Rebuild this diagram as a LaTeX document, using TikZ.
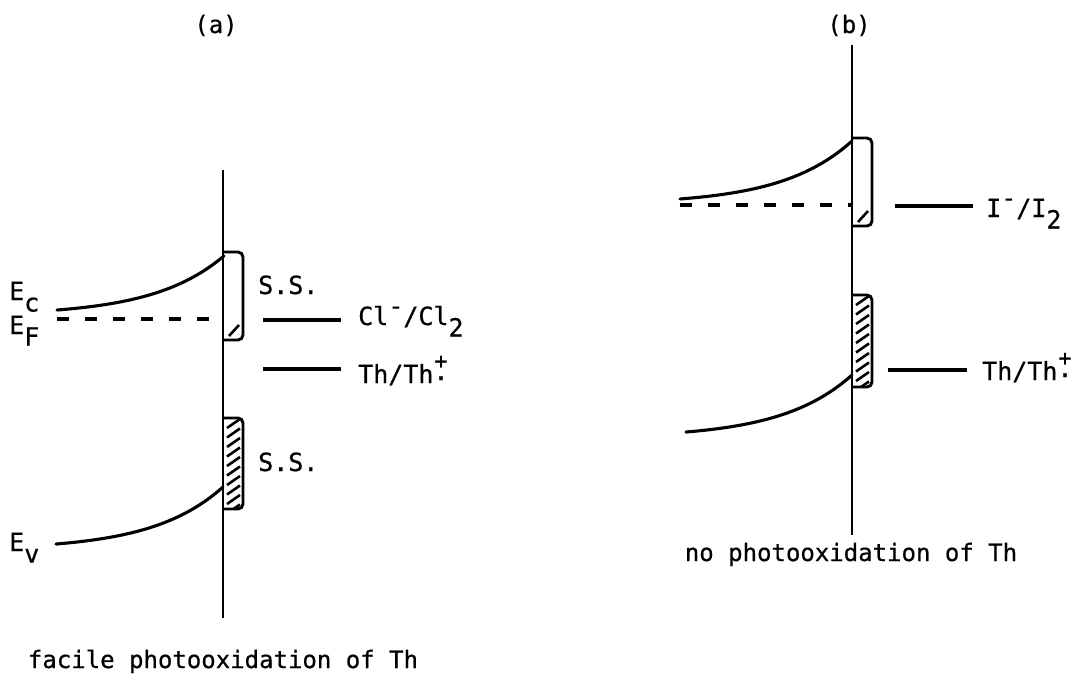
\documentclass[tikz,border=0pt]{standalone}
\usepackage{fontspec}
\newfontfamily\tw[FakeBold=0.6]{DejaVu Sans Mono}
\newcommand\tsub[1]{\raisebox{-0.46em}{#1}}
\newcommand\tsupm{\raisebox{0.42em}{-}}
\newcommand\radc{\ooalign{\hfil\raisebox{0.12em}{.}\hfil\cr\hfil\raisebox{0.58em}{\fontsize{22}{22}\selectfont +}\hfil\cr}}
\begin{document}
\begin{tikzpicture}[x=1pt,y=-1pt,
  lbl/.style={font=\tw\fontsize{25}{30}\selectfont, inner sep=0pt, anchor=base west},
  capt/.style={font=\tw\fontsize{24}{28}\selectfont, inner sep=0pt, anchor=base},
  band/.style={line width=3.1pt, line cap=round},
  axisline/.style={line width=2.8pt},
  level/.style={line width=3.2pt},
  fermi/.style={line width=3.4pt, dash pattern=on 12pt off 16pt},
  ssout/.style={line width=2.9pt, rounded corners=5pt},
  hatchline/.style={line width=2.6pt}]
\useasboundingbox (0,0) rectangle (1077,686);

% ---------------- panel (a) ----------------
\node[capt] (ta) at (216,33) {(a)};
\coordinate (atop) at (223,170);
\coordinate (abot) at (223,618);
\draw[axisline] (atop) -- (abot);

% conduction band, Fermi level
\draw[band] plot[domain=57:224, samples=50, smooth] (\x, {315.5-60.5*exp((\x-225)/70)});
\coordinate (af1) at (57,319);
\coordinate (af2) at (223,319);
\draw[fermi] (af1) -- (af2);

% upper surface-state box
\begin{scope}
  \clip[rounded corners=5pt] (223,319) -- (243,319) -- (243,340) -- (223,340) -- cycle;
  \draw[hatchline] (229,336) -- (239,325);
\end{scope}
\draw[ssout] (223,252) -- (243,252) -- (243,340) -- (223,340);

% lower surface-state box (hatched)
\begin{scope}
  \clip[rounded corners=5pt] (223,418) -- (243,418) -- (243,509) -- (223,509) -- cycle;
  \foreach \k in {422,431.5,...,512} \draw[hatchline] (227,\k+6) -- (240,\k-3);
\end{scope}
\draw[ssout] (223,418) -- (243,418) -- (243,509) -- (223,509);

% valence band
\draw[band] plot[domain=56:223, samples=50, smooth] (\x, {549.8-62.8*exp((\x-223)/70)});

% labels
\node[lbl] (ec) at (9,300) {E\tsub{c}};
\node[lbl] (ef) at (9,334) {E\tsub{F}};
\node[lbl] (ev) at (9,551) {E\tsub{v}};
\node[lbl] (ss1) at (258,294) {S.S.};
\node[lbl] (ss2) at (258,471) {S.S.};

% redox levels
\coordinate (cl1) at (263,320);
\coordinate (cl2) at (341,320);
\draw[level] (cl1) -- (cl2);
\node[lbl] (cltext) at (358,325) {Cl\tsupm/Cl\tsub{2}};
\coordinate (th1) at (263,369);
\coordinate (th2) at (341,369);
\draw[level] (th1) -- (th2);
\node[lbl] (thtext) at (358,383) {Th/Th\radc};

\node[capt] (capa) at (223,668) {facile photooxidation of Th};

% ---------------- panel (b) ----------------
\node[capt] (tb) at (849,33) {(b)};
\coordinate (btop) at (852,45);
\coordinate (bbot) at (852,535);
\draw[axisline] (btop) -- (bbot);

\draw[band] plot[domain=680:852, samples=50, smooth] (\x, {204.4-63.4*exp((\x-852)/70)});
\coordinate (bf1) at (680,205);
\coordinate (bf2) at (852,205);
\draw[fermi] (bf1) -- (bf2);

\begin{scope}
  \clip[rounded corners=5pt] (852,205) -- (872,205) -- (872,226) -- (852,226) -- cycle;
  \draw[hatchline] (858,222) -- (868,211);
\end{scope}
\draw[ssout] (852,138) -- (872,138) -- (872,226) -- (852,226);

\begin{scope}
  \clip[rounded corners=5pt] (852,295) -- (872,295) -- (872,387) -- (852,387) -- cycle;
  \foreach \k in {299,308.5,...,390} \draw[hatchline] (856,\k+6) -- (869,\k-3);
\end{scope}
\draw[ssout] (852,295) -- (872,295) -- (872,387) -- (852,387);

\draw[band] plot[domain=686:852, samples=50, smooth] (\x, {437.9-62.9*exp((\x-852)/70)});

\coordinate (i1) at (895,206);
\coordinate (i2) at (973,206);
\draw[level] (i1) -- (i2);
\node[lbl] (itext) at (986,217) {I\tsupm/I\tsub{2}};
\coordinate (tb1) at (888,370);
\coordinate (tb2) at (967,370);
\draw[level] (tb1) -- (tb2);
\node[lbl] (tbtext) at (982,380) {Th/Th\radc};

\node[capt] (capb) at (851,561) {no photooxidation of Th};
\end{tikzpicture}
\end{document}
